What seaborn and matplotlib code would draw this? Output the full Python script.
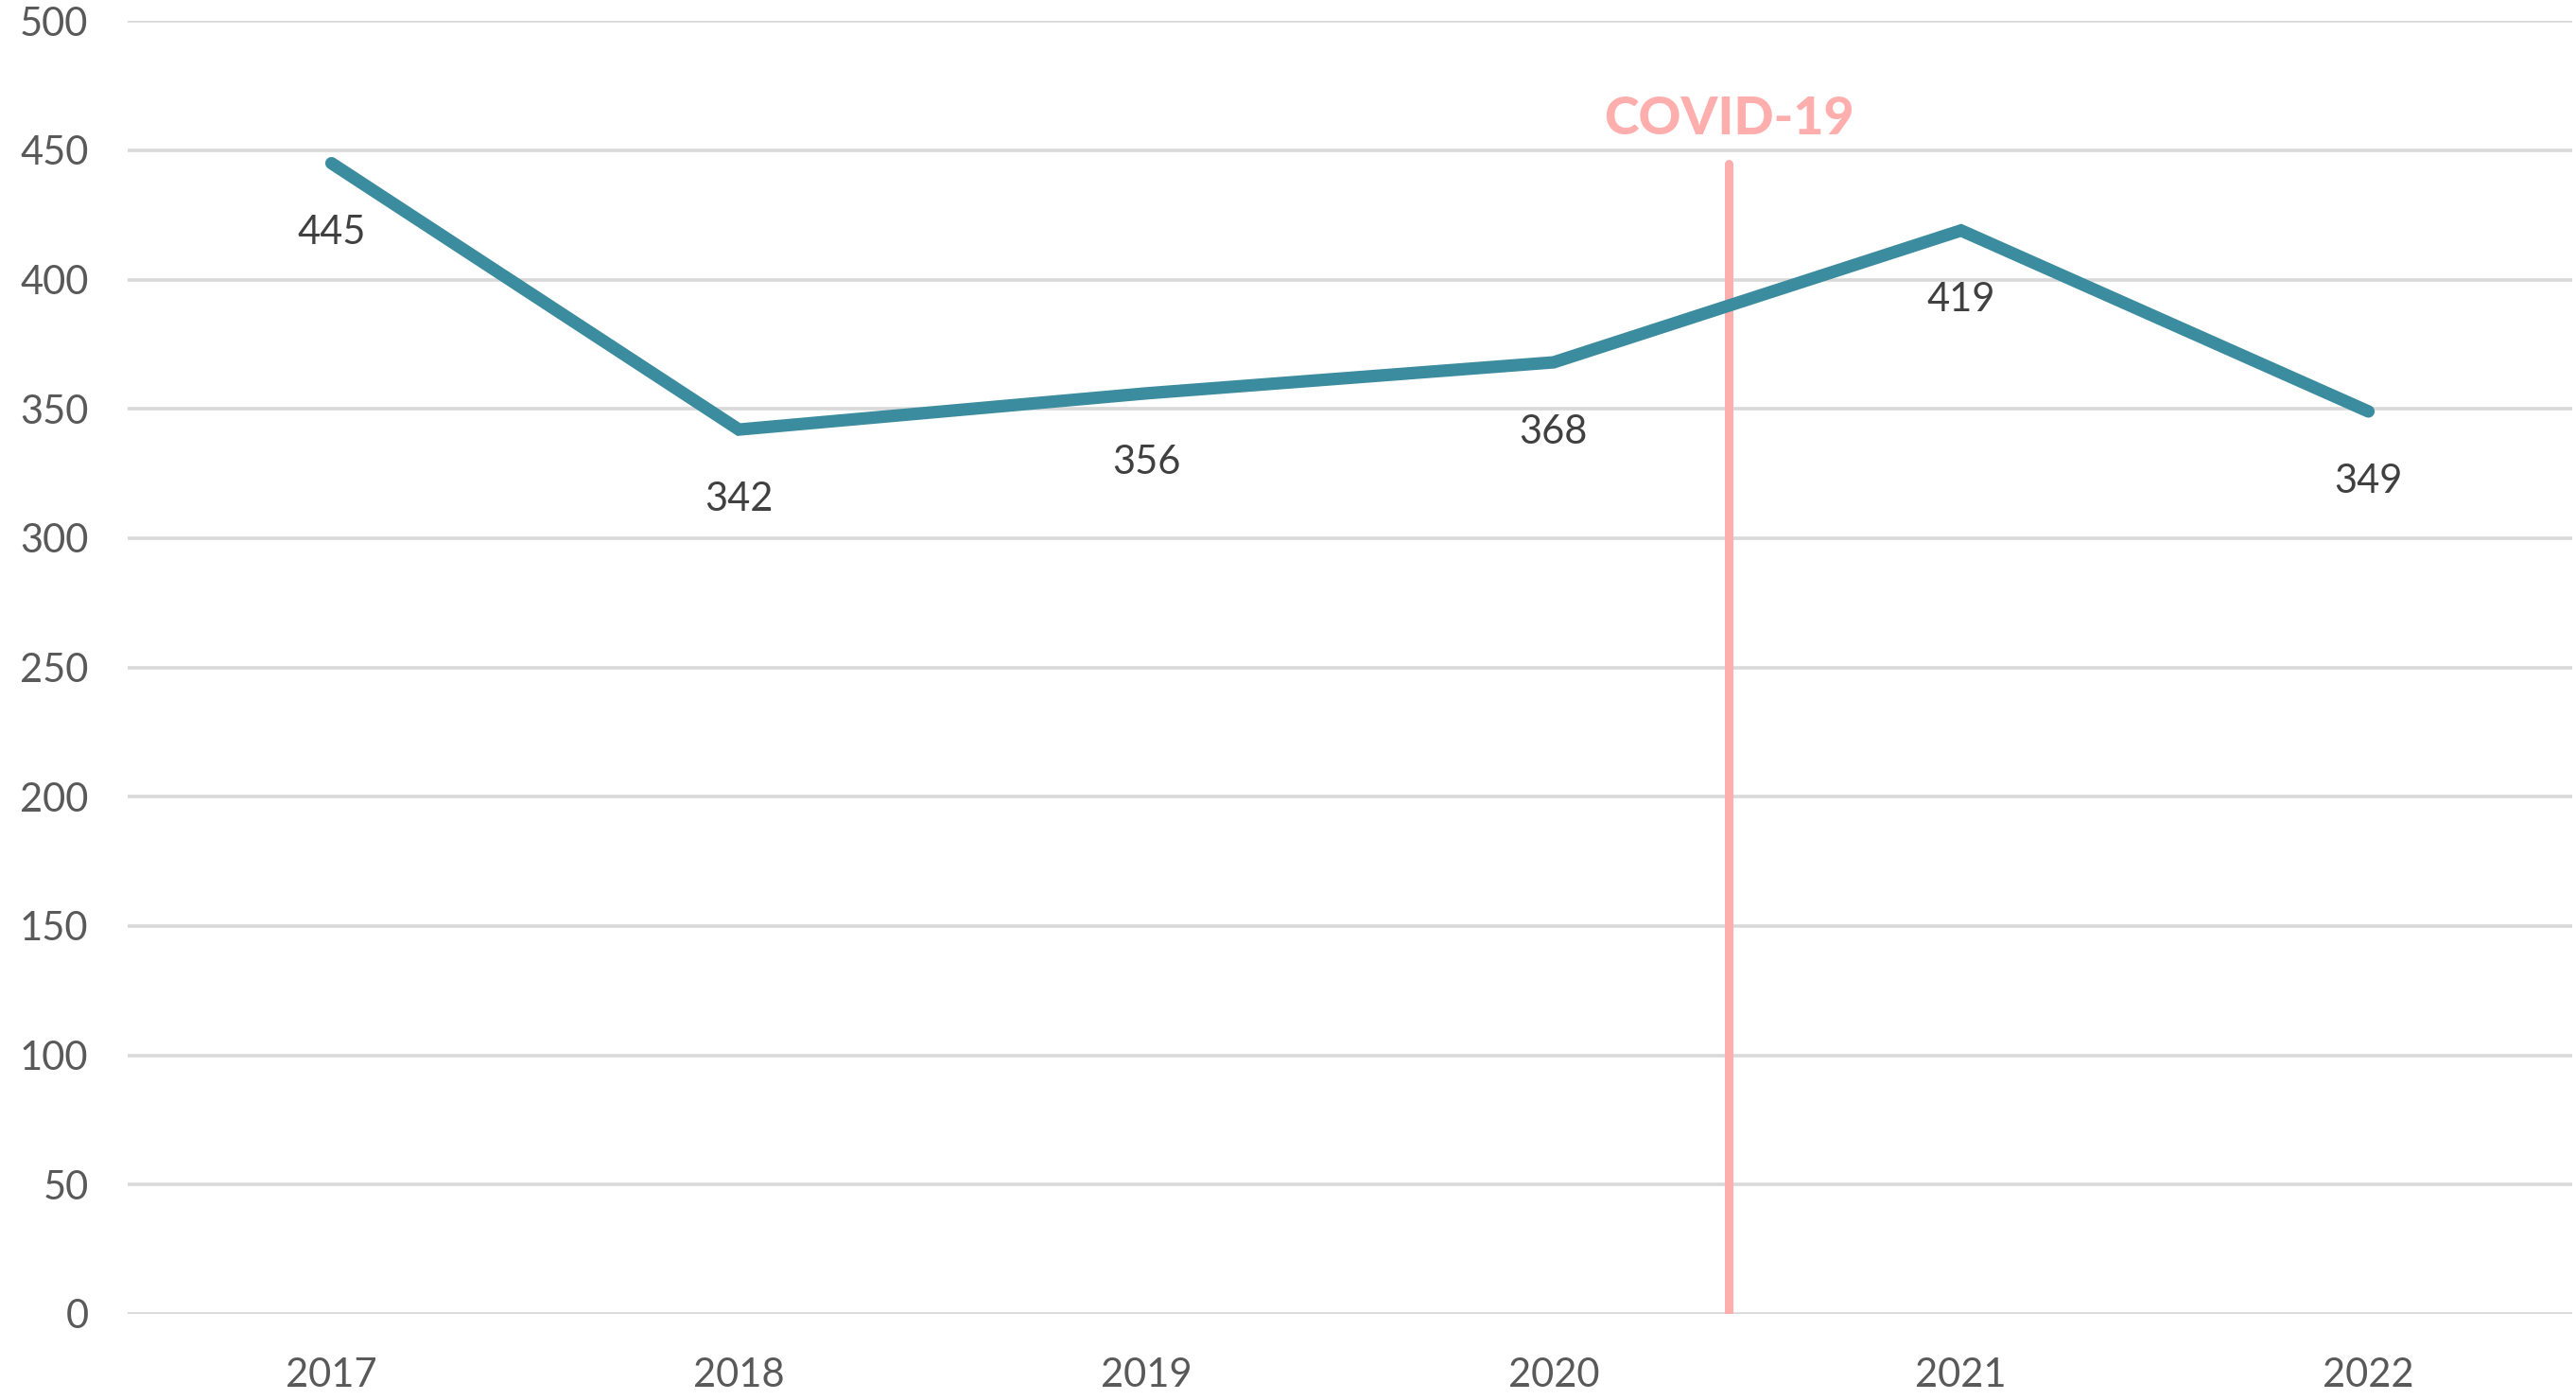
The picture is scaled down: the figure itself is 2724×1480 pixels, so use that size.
import pandas as pd
import matplotlib
matplotlib.use("Agg")
import matplotlib.pyplot as plt
import seaborn as sns

sns.set_theme(style="white")
plt.rcParams["font.family"] = ["Lato", "DejaVu Sans"]

# data
years = ["2017", "2018", "2019", "2020", "2021", "2022"]
values = [445, 342, 356, 368, 419, 349]
covid_x = 3.43          # between 2020 and 2021
covid_top = 445
y_ticks = list(range(0, 501, 50))

LINE_COLOR = "#3A8C9E"
COVID_COLOR = "#FFAEAE"
TEXT_COLOR = "#595959"
GRID_COLOR = "#D9D9D9"

df = pd.DataFrame({"Year": years, "Value": values})

fig, ax = plt.subplots(figsize=(27.24, 14.8), dpi=100)
fig.subplots_adjust(left=0.0496, right=0.9985, top=0.985, bottom=0.0615)

for y in y_ticks:
    ax.axhline(y, color=GRID_COLOR, lw=2.6, zorder=0)

sns.lineplot(data=df, x="Year", y="Value", ax=ax, color=LINE_COLOR,
             lw=9.5, solid_capstyle="round", solid_joinstyle="miter", zorder=3)

for i, v in enumerate(values):
    ax.annotate(str(v), (i, v), xytext=(0, -53), textcoords="offset points",
                ha="center", va="center", fontsize=30, color="#404040")

ax.plot([covid_x, covid_x], [0, covid_top], color=COVID_COLOR, lw=6.5, zorder=2)
ax.text(covid_x, 462, "COVID-19", ha="center", va="center", fontsize=40,
        fontweight="black", color=COVID_COLOR)

ax.set_xlim(-0.5, len(years) - 0.5)
ax.set_ylim(0, 500)
ax.set_yticks(y_ticks)
ax.set_xlabel("")
ax.set_ylabel("")
ax.tick_params(axis="y", labelsize=30, labelcolor=TEXT_COLOR, pad=30, length=0)
ax.tick_params(axis="x", labelsize=30, labelcolor=TEXT_COLOR, pad=33, length=0)
for s in ax.spines.values():
    s.set_visible(False)

fig.savefig("out.png", dpi=100)
